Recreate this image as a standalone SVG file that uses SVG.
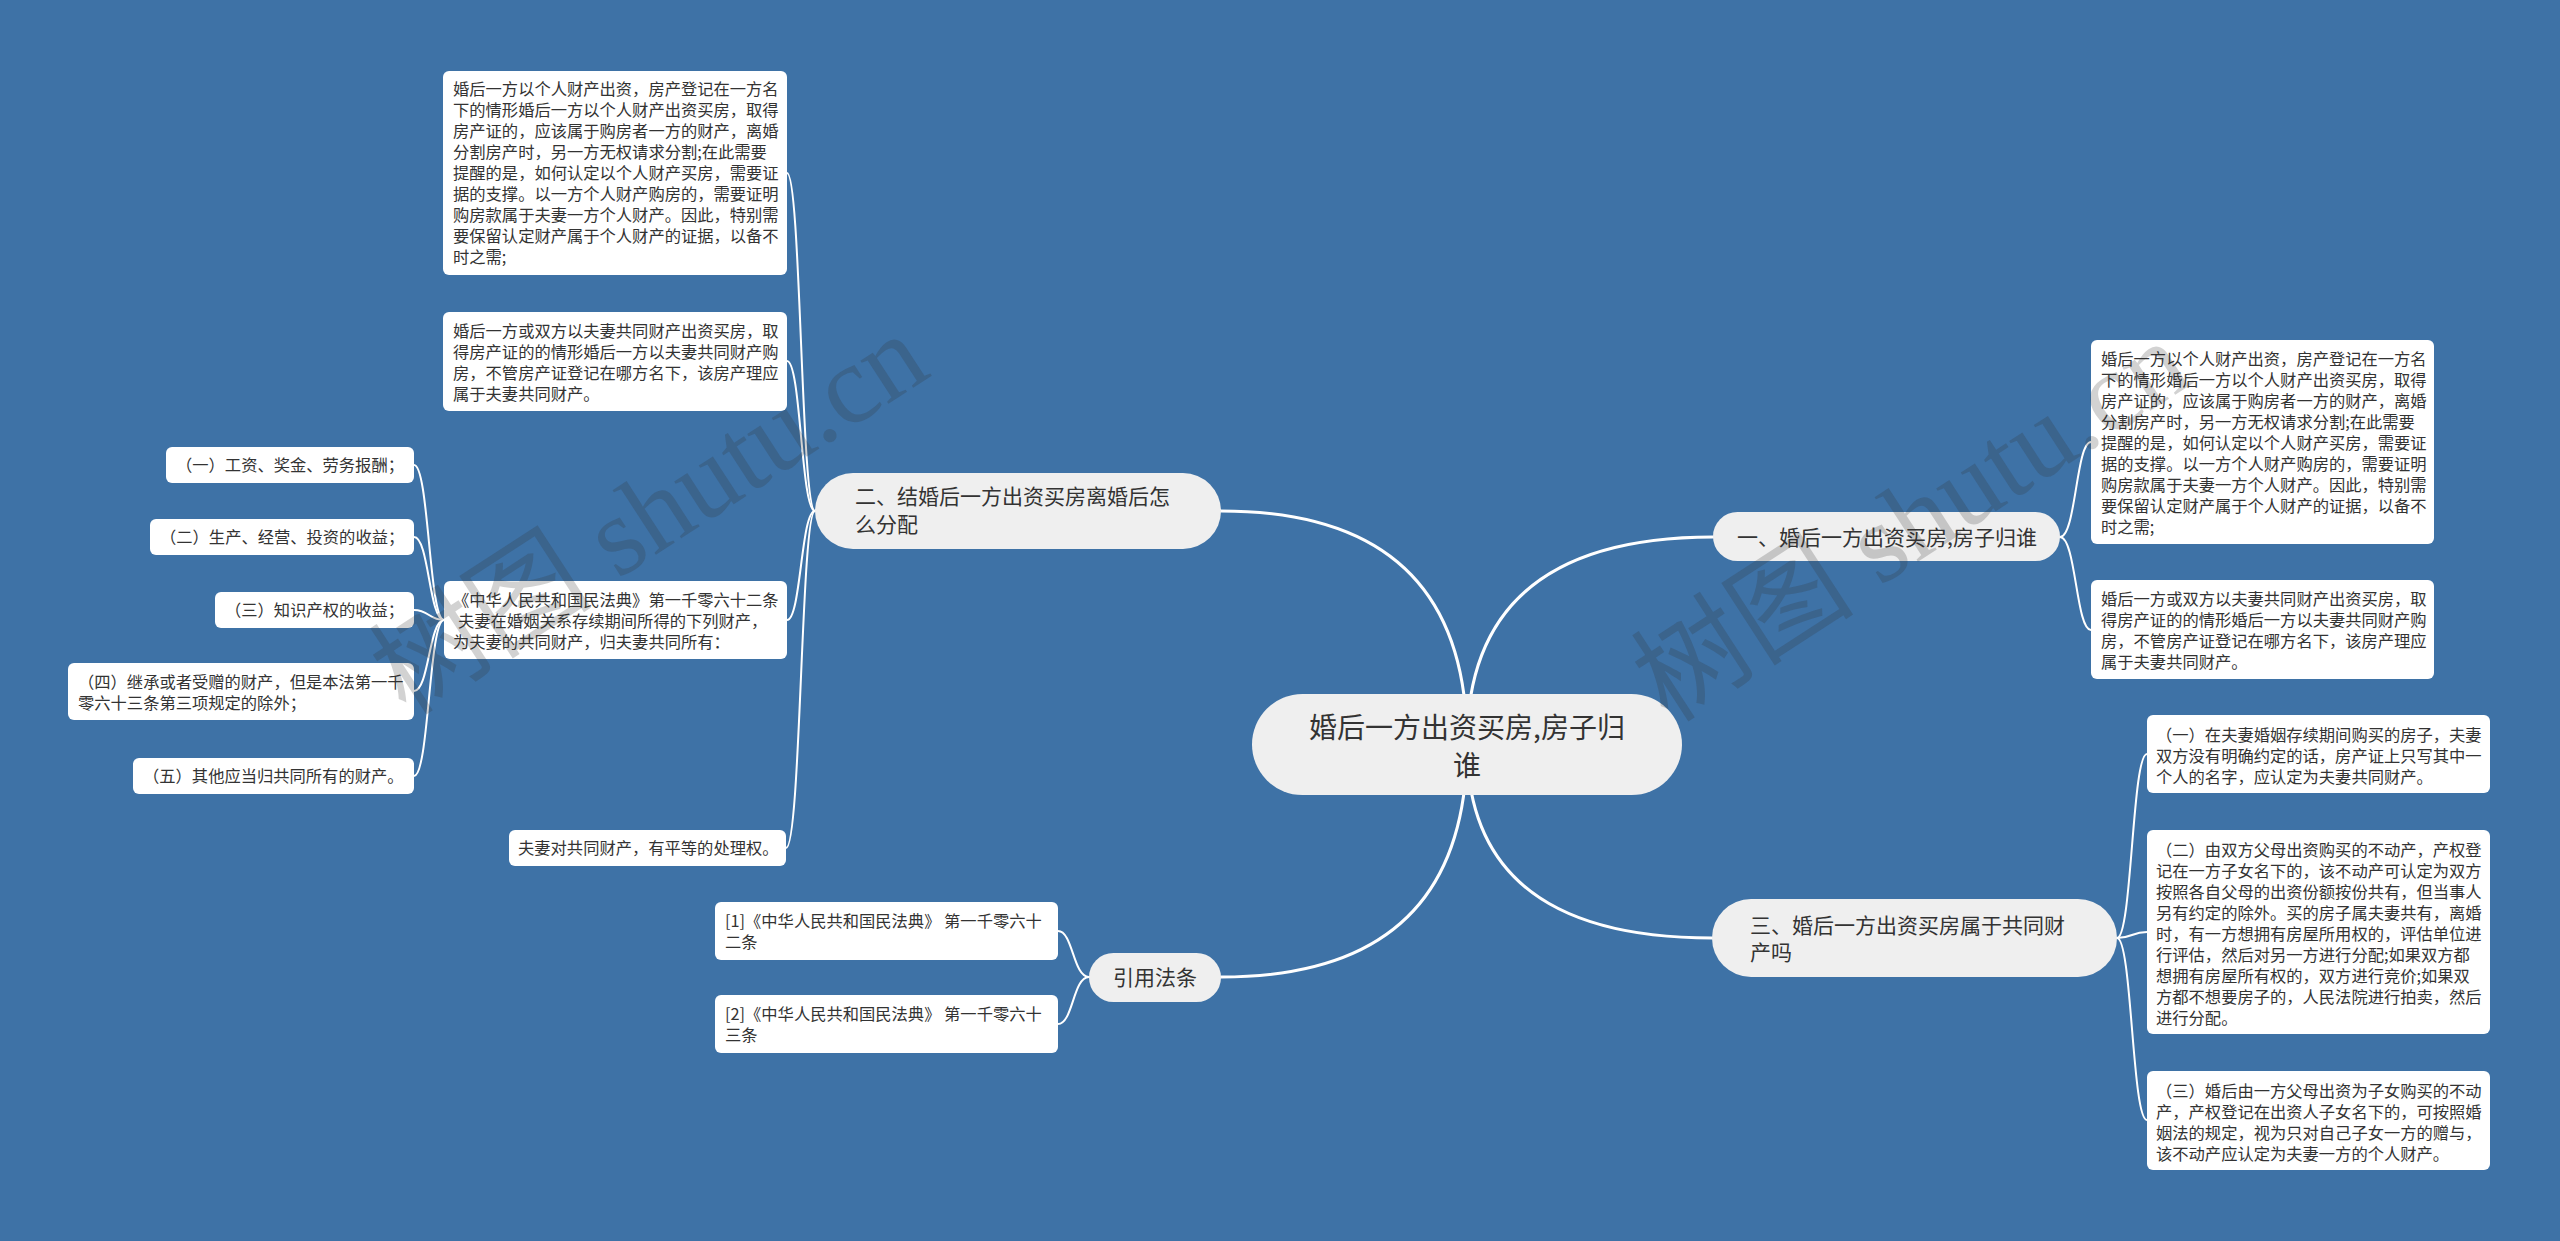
<svg xmlns="http://www.w3.org/2000/svg" width="2560" height="1241" viewBox="0 0 2560 1241">
<style>
.bg{fill:#3e72a6}
.main{fill:#efefef}
.leaf{fill:#ffffff}
.t{font-family:"Noto Sans CJK SC","Microsoft YaHei",sans-serif;fill:#333333}
.c{font-size:28px;text-anchor:middle}
.b{font-size:21px}
.l{font-size:16.3px}
.conn path{fill:none;stroke:#ffffff;stroke-linecap:round}
.thick{stroke-width:3}
.thin{stroke-width:2}
.wm{font-family:"Liberation Serif","Noto Sans CJK SC",serif;font-size:112px;fill:#333333;fill-opacity:0.22;text-anchor:middle}
</style>
<rect class="bg" x="0" y="0" width="2560" height="1241"/>
<g id="connectors" class="conn">
<path class="thick" d="M1467,744 Q1467,537 1713,537"/>
<path class="thick" d="M1467,744 Q1467,511 1221,511"/>
<path class="thick" d="M1467,744 Q1467,938 1712,938"/>
<path class="thick" d="M1467,744 Q1467,977 1221,977"/>
<path class="thin" d="M2060,537 C2076,537 2076,442 2091,442"/>
<path class="thin" d="M2060,537 C2076,537 2076,630 2091,630"/>
<path class="thin" d="M2117,938 C2132,938 2132,754 2147,754"/>
<path class="thin" d="M2117,938 C2132,938 2132,932 2147,932"/>
<path class="thin" d="M2117,938 C2132,938 2132,1120 2147,1120"/>
<path class="thin" d="M815,511 C801,511 801,173 787,173"/>
<path class="thin" d="M815,511 C801,511 801,361 787,361"/>
<path class="thin" d="M815,511 C801,511 801,620 787,620"/>
<path class="thin" d="M815,511 C801,511 801,848 786,848"/>
<path class="thin" d="M444,620 C429,620 429,465 414,465"/>
<path class="thin" d="M444,620 C429,620 429,537 414,537"/>
<path class="thin" d="M444,620 C429,620 429,610 414,610"/>
<path class="thin" d="M444,620 C429,620 429,691 414,691"/>
<path class="thin" d="M444,620 C429,620 429,776 414,776"/>
<path class="thin" d="M1089,977 C1073,977 1073,931 1058,931"/>
<path class="thin" d="M1089,977 C1073,977 1073,1024 1058,1024"/>
</g>
<g id="center">
<rect class="main" x="1252" y="694" width="430" height="101" rx="50.5"/>
<text class="t c"><tspan x="1467" y="738">婚后一方出资买房,房子归</tspan><tspan x="1467" y="776">谁</tspan></text>
</g>
<g id="branch1">
<rect class="main" x="1713" y="512" width="347" height="49" rx="24.5"/>
<text class="t b" x="1887" y="545" text-anchor="middle">一、婚后一方出资买房,房子归谁</text>
</g>
<g id="branch2">
<rect class="main" x="815" y="473" width="406" height="76" rx="38"/>
<text class="t b"><tspan x="855" y="504">二、结婚后一方出资买房离婚后怎</tspan><tspan x="855" y="532">么分配</tspan></text>
</g>
<g id="branch3">
<rect class="main" x="1712" y="899" width="405" height="78" rx="39"/>
<text class="t b"><tspan x="1750" y="933">三、婚后一方出资买房属于共同财</tspan><tspan x="1750" y="960">产吗</tspan></text>
</g>
<g id="branch4">
<rect class="main" x="1089" y="953" width="132" height="49" rx="24.5"/>
<text class="t b" x="1155" y="985" text-anchor="middle">引用法条</text>
</g>
<g id="leafA">
<rect class="leaf" x="443" y="71" width="344" height="204" rx="6"/>
<text class="t l"><tspan x="453" y="95">婚后一方以个人财产出资，房产登记在一方名</tspan><tspan x="453" y="116">下的情形婚后一方以个人财产出资买房，取得</tspan><tspan x="453" y="137">房产证的，应该属于购房者一方的财产，离婚</tspan><tspan x="453" y="158">分割房产时，另一方无权请求分割;在此需要</tspan><tspan x="453" y="179">提醒的是，如何认定以个人财产买房，需要证</tspan><tspan x="453" y="200">据的支撑。以一方个人财产购房的，需要证明</tspan><tspan x="453" y="221">购房款属于夫妻一方个人财产。因此，特别需</tspan><tspan x="453" y="242">要保留认定财产属于个人财产的证据，以备不</tspan><tspan x="453" y="263">时之需;</tspan></text>
</g>
<g id="leafB">
<rect class="leaf" x="443" y="312" width="344" height="99" rx="6"/>
<text class="t l"><tspan x="453" y="337">婚后一方或双方以夫妻共同财产出资买房，取</tspan><tspan x="453" y="358">得房产证的的情形婚后一方以夫妻共同财产购</tspan><tspan x="453" y="379">房，不管房产证登记在哪方名下，该房产理应</tspan><tspan x="453" y="400">属于夫妻共同财产。</tspan></text>
</g>
<g id="leafLaw">
<rect class="leaf" x="444" y="581" width="343" height="78" rx="6"/>
<text class="t l"><tspan x="453" y="606">《中华人民共和国民法典》第一千零六十二条</tspan><tspan x="458" y="627">夫妻在婚姻关系存续期间所得的下列财产，</tspan><tspan x="453" y="648">为夫妻的共同财产，归夫妻共同所有：</tspan></text>
</g>
<g id="leafEqual">
<rect class="leaf" x="509" y="830" width="277" height="36" rx="6"/>
<text class="t l" x="518" y="854">夫妻对共同财产，有平等的处理权。</text>
</g>
<g id="item1">
<rect class="leaf" x="166" y="447" width="248" height="36" rx="6"/>
<text class="t l" x="176" y="471">（一）工资、奖金、劳务报酬；</text>
</g>
<g id="item2">
<rect class="leaf" x="150" y="519" width="264" height="36" rx="6"/>
<text class="t l" x="160" y="543">（二）生产、经营、投资的收益；</text>
</g>
<g id="item3">
<rect class="leaf" x="215" y="592" width="199" height="36" rx="6"/>
<text class="t l" x="225" y="616">（三）知识产权的收益；</text>
</g>
<g id="item4">
<rect class="leaf" x="68" y="663" width="346" height="57" rx="6"/>
<text class="t l"><tspan x="78" y="688">（四）继承或者受赠的财产，但是本法第一千</tspan><tspan x="78" y="709">零六十三条第三项规定的除外；</tspan></text>
</g>
<g id="item5">
<rect class="leaf" x="133" y="758" width="281" height="36" rx="6"/>
<text class="t l" x="143" y="782">（五）其他应当归共同所有的财产。</text>
</g>
<g id="leafR1">
<rect class="leaf" x="2091" y="340" width="343" height="204" rx="6"/>
<text class="t l"><tspan x="2101" y="365">婚后一方以个人财产出资，房产登记在一方名</tspan><tspan x="2101" y="386">下的情形婚后一方以个人财产出资买房，取得</tspan><tspan x="2101" y="407">房产证的，应该属于购房者一方的财产，离婚</tspan><tspan x="2101" y="428">分割房产时，另一方无权请求分割;在此需要</tspan><tspan x="2101" y="449">提醒的是，如何认定以个人财产买房，需要证</tspan><tspan x="2101" y="470">据的支撑。以一方个人财产购房的，需要证明</tspan><tspan x="2101" y="491">购房款属于夫妻一方个人财产。因此，特别需</tspan><tspan x="2101" y="512">要保留认定财产属于个人财产的证据，以备不</tspan><tspan x="2101" y="533">时之需;</tspan></text>
</g>
<g id="leafR2">
<rect class="leaf" x="2091" y="580" width="343" height="99" rx="6"/>
<text class="t l"><tspan x="2101" y="605">婚后一方或双方以夫妻共同财产出资买房，取</tspan><tspan x="2101" y="626">得房产证的的情形婚后一方以夫妻共同财产购</tspan><tspan x="2101" y="647">房，不管房产证登记在哪方名下，该房产理应</tspan><tspan x="2101" y="668">属于夫妻共同财产。</tspan></text>
</g>
<g id="leafR3">
<rect class="leaf" x="2147" y="715" width="343" height="78" rx="6"/>
<text class="t l"><tspan x="2156" y="741">（一）在夫妻婚姻存续期间购买的房子，夫妻</tspan><tspan x="2156" y="762">双方没有明确约定的话，房产证上只写其中一</tspan><tspan x="2156" y="783">个人的名字，应认定为夫妻共同财产。</tspan></text>
</g>
<g id="leafR4">
<rect class="leaf" x="2147" y="830" width="343" height="204" rx="6"/>
<text class="t l"><tspan x="2156" y="856">（二）由双方父母出资购买的不动产，产权登</tspan><tspan x="2156" y="877">记在一方子女名下的，该不动产可认定为双方</tspan><tspan x="2156" y="898">按照各自父母的出资份额按份共有，但当事人</tspan><tspan x="2156" y="919">另有约定的除外。买的房子属夫妻共有，离婚</tspan><tspan x="2156" y="940">时，有一方想拥有房屋所用权的，评估单位进</tspan><tspan x="2156" y="961">行评估，然后对另一方进行分配;如果双方都</tspan><tspan x="2156" y="982">想拥有房屋所有权的，双方进行竞价;如果双</tspan><tspan x="2156" y="1003">方都不想要房子的，人民法院进行拍卖，然后</tspan><tspan x="2156" y="1024">进行分配。</tspan></text>
</g>
<g id="leafR5">
<rect class="leaf" x="2147" y="1071" width="343" height="99" rx="6"/>
<text class="t l"><tspan x="2156" y="1097">（三）婚后由一方父母出资为子女购买的不动</tspan><tspan x="2156" y="1118">产，产权登记在出资人子女名下的，可按照婚</tspan><tspan x="2156" y="1139">姻法的规定，视为只对自己子女一方的赠与，</tspan><tspan x="2156" y="1160">该不动产应认定为夫妻一方的个人财产。</tspan></text>
</g>
<g id="ref1">
<rect class="leaf" x="715" y="902" width="343" height="58" rx="6"/>
<text class="t l"><tspan x="725" y="927">[1]《中华人民共和国民法典》 第一千零六十</tspan><tspan x="725" y="948">二条</tspan></text>
</g>
<g id="ref2">
<rect class="leaf" x="715" y="995" width="343" height="58" rx="6"/>
<text class="t l"><tspan x="725" y="1020">[2]《中华人民共和国民法典》 第一千零六十</tspan><tspan x="725" y="1041">三条</tspan></text>
</g>
<g id="watermark">
<text class="wm" transform="translate(649,514) rotate(-33)" y="38">树图 shutu.cn</text>
<text class="wm" transform="translate(1911,521) rotate(-33)" y="38">树图 shutu.cn</text>
</g>
</svg>
